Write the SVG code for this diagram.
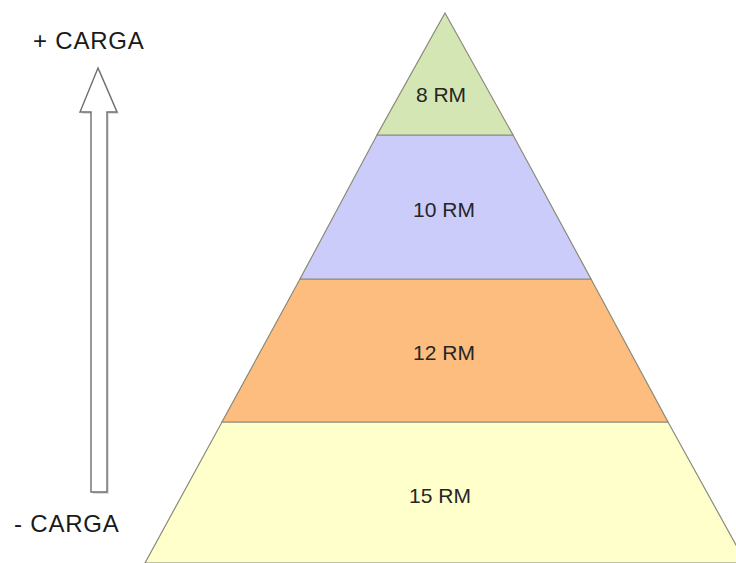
<svg xmlns="http://www.w3.org/2000/svg" width="736" height="563" viewBox="0 0 736 563">
<style>
.band{stroke:#8a8a7a;stroke-width:1.2}
.lbl{font-family:"Liberation Sans",Arial,sans-serif;font-size:21px;fill:#262626;text-anchor:middle}
.side{font-family:"Liberation Sans",Arial,sans-serif;font-size:24px;fill:#1a1a1a;letter-spacing:0.8px}
</style>
<rect width="736" height="563" fill="#ffffff"/>
<g id="band-15">
<polygon class="band" points="222,422 668,422 746,563 145,563" fill="#ffffcc"/>
<text class="lbl" x="440" y="503">15 RM</text>
</g>
<g id="band-12">
<polygon class="band" points="300,279 591,279 668,422 222,422" fill="#fdbd7f"/>
<text class="lbl" x="444" y="360">12 RM</text>
</g>
<g id="band-10">
<polygon class="band" points="377,135 513,135 591,279 300,279" fill="#ccccfa"/>
<text class="lbl" x="444" y="217">10 RM</text>
</g>
<g id="band-8">
<polygon class="band" points="445,13 513,135 377,135" fill="#d5e6b5"/>
<text class="lbl" x="441" y="102">8 RM</text>
</g>
<g id="connectors">
<polygon points="100,70 119,114 109,114 109,494 93,494 93,114 82,114" fill="#c8c8c8" opacity="0.6"/>
<polygon points="98,68 117,112 107,112 107,492 91,492 91,112 80,112" fill="#ffffff" stroke="#6e6e6e" stroke-width="1.4" stroke-linejoin="miter"/>
</g>
<g id="labels">
<text class="side" x="33" y="49">+ CARGA</text>
<text class="side" x="14" y="532">- CARGA</text>
</g>
</svg>
